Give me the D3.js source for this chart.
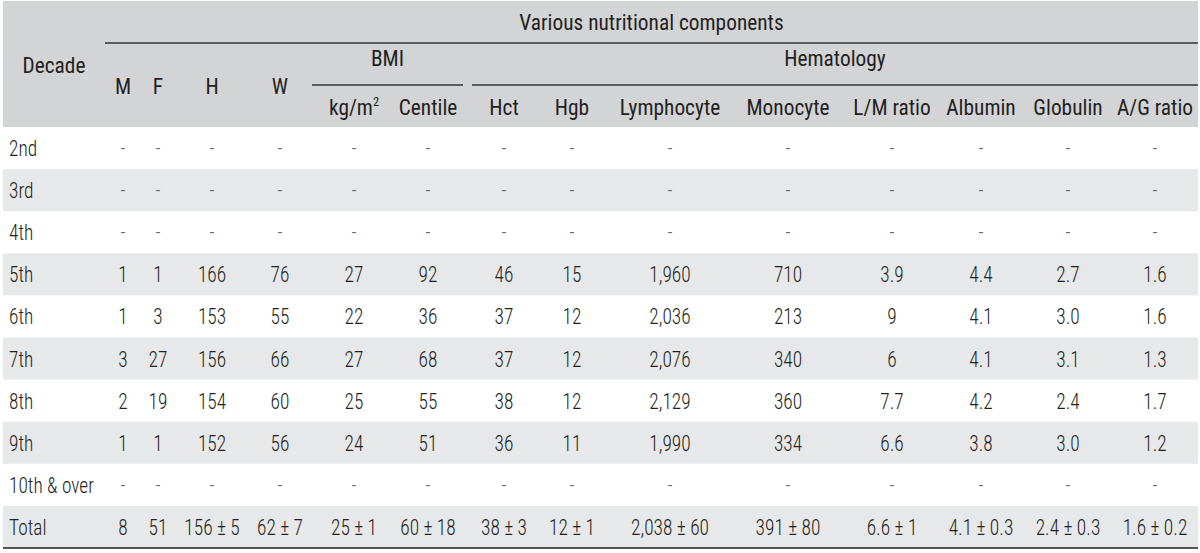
<!DOCTYPE html>
<html>
<head>
<meta charset="utf-8">
<script src="https://cdn.jsdelivr.net/npm/d3@7"></script>
<style>
  html, body { margin: 0; padding: 0; background: #ffffff; }
  svg { display: block; }
  text { font-family: "Roboto Condensed", "Liberation Sans Narrow", "DejaVu Sans Condensed", sans-serif; }
</style>
</head>
<body>
<svg id="chart" width="1200" height="553"></svg>
<script>
// ---------- DATA ----------
const decades = ["2nd", "3rd", "4th", "5th", "6th", "7th", "8th", "9th", "10th & over", "Total"];
const colKeys = ["M", "F", "H", "W", "kg", "Centile", "Hct", "Hgb", "Lymphocyte", "Monocyte", "LM", "Albumin", "Globulin", "AG"];
const colLabels = ["M", "F", "H", "W", "kg/m", "Centile", "Hct", "Hgb", "Lymphocyte", "Monocyte", "L/M ratio", "Albumin", "Globulin", "A/G ratio"];
const valM = ["-", "-", "-", "1", "1", "3", "2", "1", "-", "8"];
const valF = ["-", "-", "-", "1", "3", "27", "19", "1", "-", "51"];
const valH = ["-", "-", "-", "166", "153", "156", "154", "152", "-", "156 ± 5"];
const valW = ["-", "-", "-", "76", "55", "66", "60", "56", "-", "62 ± 7"];
const valKg = ["-", "-", "-", "27", "22", "27", "25", "24", "-", "25 ± 1"];
const valCentile = ["-", "-", "-", "92", "36", "68", "55", "51", "-", "60 ± 18"];
const valHct = ["-", "-", "-", "46", "37", "37", "38", "36", "-", "38 ± 3"];
const valHgb = ["-", "-", "-", "15", "12", "12", "12", "11", "-", "12 ± 1"];
const valLymph = ["-", "-", "-", "1,960", "2,036", "2,076", "2,129", "1,990", "-", "2,038 ± 60"];
const valMono = ["-", "-", "-", "710", "213", "340", "360", "334", "-", "391 ± 80"];
const valLM = ["-", "-", "-", "3.9", "9", "6", "7.7", "6.6", "-", "6.6 ± 1"];
const valAlb = ["-", "-", "-", "4.4", "4.1", "4.1", "4.2", "3.8", "-", "4.1 ± 0.3"];
const valGlob = ["-", "-", "-", "2.7", "3.0", "3.1", "2.4", "3.0", "-", "2.4 ± 0.3"];
const valAG = ["-", "-", "-", "1.6", "1.6", "1.3", "1.7", "1.2", "-", "1.6 ± 0.2"];
const columnValues = [valM, valF, valH, valW, valKg, valCentile, valHct, valHgb, valLymph, valMono, valLM, valAlb, valGlob, valAG];
const groupTitle = "Various nutritional components";
const subGroups = ["BMI", "Hematology"];

// ---------- LAYOUT ----------
const colCenters = [123, 158, 212, 280, 354, 428, 504, 572, 670, 788, 892, 981, 1068, 1155];
const subGroupSpans = [[312, 463], [472, 1198]];
const tableLeft = 3, tableRight = 1198;
const headerTop = 1, headerBottom = 127, tableBottom = 548;
const ink = "#231f20";
const hfs = 22.5, hsx = 0.95;   // header font size / horizontal squeeze
const dfs = 22, dsx = 0.88;     // body font size / horizontal squeeze

const svg = d3.select("#chart");
const x = d3.scaleOrdinal().domain(colKeys).range(colCenters);
const y = d3.scaleBand().domain(decades).range([headerBottom, tableBottom]);

function label(sel, cx, cy, txt, fs, sx, anchor, fill, weight) {
  return sel.append("text")
    .attr("transform", `translate(${cx},${cy}) scale(${sx},1)`)
    .attr("text-anchor", anchor || "middle")
    .attr("font-weight", weight || 400)
    .attr("font-size", fs).attr("fill", fill || ink).text(txt);
}

// header background
svg.append("rect").attr("x", tableLeft).attr("y", headerTop)
  .attr("width", tableRight - tableLeft).attr("height", headerBottom - headerTop)
  .attr("fill", "#d3d4d6");

// striped rows
svg.selectAll("rect.stripe").data(decades.filter((d, i) => i % 2 === 1)).enter()
  .append("rect").attr("class", "stripe")
  .attr("x", tableLeft).attr("y", d => y(d))
  .attr("width", tableRight - tableLeft).attr("height", y.bandwidth())
  .attr("fill", "#e7e8e9");

// header text
label(svg, 54, 73, "Decade", hfs, hsx);
label(svg, (105 + tableRight) / 2, 30, groupTitle, hfs, hsx);
svg.append("line").attr("x1", 105).attr("x2", tableRight).attr("y1", 43).attr("y2", 43)
  .attr("stroke", "#333").attr("stroke-width", 1.5);

subGroups.forEach((g, i) => {
  const [left, right] = subGroupSpans[i];
  label(svg, (left + right) / 2, 66, g, hfs, hsx);
  svg.append("line").attr("x1", left).attr("x2", right).attr("y1", 85).attr("y2", 85)
    .attr("stroke", "#333").attr("stroke-width", 1.5);
});

colKeys.forEach((k, i) => {
  const sub = i >= 4;
  if (k === "kg") {
    const t = label(svg, x(k), 115, "", hfs, hsx);
    t.append("tspan").text(colLabels[i]);
    t.append("tspan").attr("dy", -9).attr("font-size", 13).text("2");
  } else {
    label(svg, x(k), sub ? 115 : 94, colLabels[i], hfs, hsx);
  }
});

// body
decades.forEach(d => {
  label(svg, 9, y(d) + y.bandwidth() / 2 + 8, d, dfs, dsx, "start", ink, 300);
});

colKeys.forEach((k, ci) => {
  columnValues[ci].forEach((v, i) => {
    label(svg, x(k), y(decades[i]) + y.bandwidth() / 2 + 8, v, dfs, dsx, "middle",
      v === "-" ? "#6a6a6a" : ink, 300);
  });
});

// bottom rule
svg.append("line").attr("x1", tableLeft).attr("x2", tableRight)
  .attr("y1", tableBottom).attr("y2", tableBottom)
  .attr("stroke", "#555").attr("stroke-width", 2);
</script>
</body>
</html>
